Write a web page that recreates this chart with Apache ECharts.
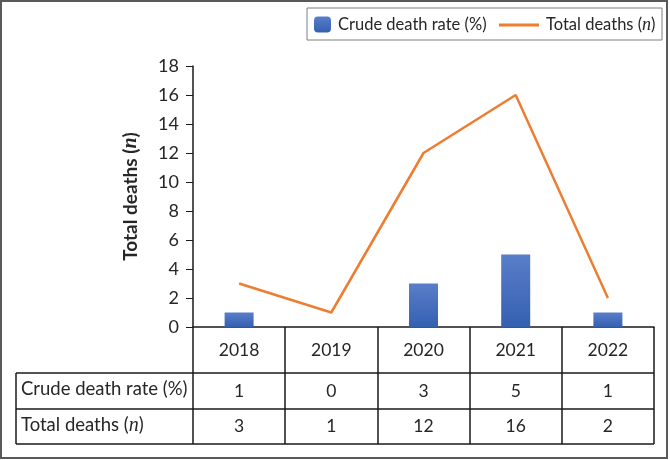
<!DOCTYPE html>
<html>
<head>
<meta charset="utf-8">
<script src="https://cdn.jsdelivr.net/npm/echarts@6/dist/echarts.min.js"></script>
<style>
  html, body { margin: 0; padding: 0; background: #fff; }
  #chart { width: 670px; height: 460px; }
</style>
</head>
<body>
<div id="chart"></div>
<script>
// data
const years = ['2018', '2019', '2020', '2021', '2022']
const crudeRate = [1, 0, 3, 5, 1]
const totalDeaths = [3, 1, 12, 16, 2]
const yTicks = { min: 0, max: 18, interval: 2 }

const FONT = 'Lato'
const TEXT = '#262626'

// table layout (pixels)
const tableLeft = 16
const plotLeft = 193
const plotRight = 654
const rowTops = [327, 373, 409, 444]

const chart = echarts.init(document.getElementById('chart'))

const tableLines = []
// horizontal lines of the two data rows
for (let i = 1; i < rowTops.length; i++) {
  tableLines.push({
    type: 'line',
    shape: { x1: tableLeft, y1: rowTops[i], x2: plotRight, y2: rowTops[i] },
    style: { stroke: '#1a1a1a', lineWidth: 1.5 }
  })
}
tableLines.push({
  type: 'line',
  shape: { x1: tableLeft, y1: rowTops[1], x2: tableLeft, y2: rowTops[3] },
  style: { stroke: '#1a1a1a', lineWidth: 1.5 }
})

const rowLabelRich = { i: { fontStyle: 'italic', fontFamily: 'Liberation Serif', fontSize: 20, fill: TEXT } }

const option = {
  animation: false,
  backgroundColor: '#fff',
  grid: {
    left: plotLeft,
    right: 670 - plotRight,
    top: 66,
    bottom: 460 - rowTops[0]
  },
  legend: [
    {
      data: ['Crude death rate (%)'],
      left: 309,
      top: 11,
      itemWidth: 17,
      itemHeight: 16,
      itemGap: 0,
      textStyle: { fontFamily: FONT, fontSize: 16.5, color: TEXT, padding: [0, 0, 0, 2] }
    },
    {
      data: [{ name: 'Total deaths (n)', icon: 'rect' }],
      left: 494,
      top: 11,
      itemWidth: 40,
      itemHeight: 3,
      formatter: () => 'Total deaths ({i|n})',
      textStyle: {
        fontFamily: FONT, fontSize: 16.5, color: TEXT, padding: [0, 0, 0, 2],
        rich: { i: { fontStyle: 'italic', fontFamily: 'Liberation Serif', fontSize: 18, color: TEXT } }
      }
    }
  ],
  xAxis: {
    type: 'category',
    data: years,
    axisLine: { lineStyle: { color: '#1a1a1a', width: 1.5 } },
    axisTick: {
      show: true,
      length: rowTops[3] - rowTops[0],
      lineStyle: { color: '#1a1a1a', width: 1.5 }
    },
    axisLabel: {
      margin: 0,
      formatter: (value, idx) => '{y|' + value + '}\n{a|' + crudeRate[idx] + '}\n{b|' + totalDeaths[idx] + '}',
      rich: {
        y: { fontFamily: FONT, fontSize: 17.5, color: TEXT, lineHeight: rowTops[1] - rowTops[0], align: 'center' },
        a: { fontFamily: FONT, fontSize: 17.5, color: TEXT, lineHeight: rowTops[2] - rowTops[1], align: 'center' },
        b: { fontFamily: FONT, fontSize: 17.5, color: TEXT, lineHeight: rowTops[3] - rowTops[2], align: 'center' }
      }
    }
  },
  yAxis: {
    type: 'value',
    min: yTicks.min,
    max: yTicks.max,
    interval: yTicks.interval,
    name: 'Total deaths ({i|n})',
    nameLocation: 'middle',
    nameGap: 52,
    nameTextStyle: {
      fontFamily: FONT, fontSize: 19, fontWeight: 'bold', color: TEXT,
      rich: { i: { fontStyle: 'italic', fontWeight: 'bold', fontFamily: 'Liberation Serif', fontSize: 20, color: TEXT } }
    },
    axisLine: { show: true, lineStyle: { color: '#1a1a1a', width: 1.5 } },
    axisTick: { show: true, length: 7, lineStyle: { color: '#1a1a1a' } },
    axisLabel: { margin: 14, fontFamily: FONT, fontSize: 18, color: TEXT },
    splitLine: { show: false }
  },
  series: [
    {
      name: 'Crude death rate (%)',
      type: 'bar',
      data: crudeRate,
      barWidth: 29,
      itemStyle: {
        color: new echarts.graphic.LinearGradient(0, 0, 0, 1, [
          { offset: 0, color: '#5a7ec9' },
          { offset: 1, color: '#3460b1' }
        ])
      }
    },
    {
      name: 'Total deaths (n)',
      type: 'line',
      data: totalDeaths,
      symbol: 'none',
      lineStyle: { color: '#ed7d31', width: 2.5 },
      itemStyle: { color: '#ed7d31' }
    }
  ],
  graphic: [
    // outer frame
    {
      type: 'rect',
      shape: { x: 1, y: 1, width: 666, height: 457 },
      style: { fill: 'none', stroke: '#595959', lineWidth: 2 },
      z: 0
    },
    // legend box
    {
      type: 'rect',
      shape: { x: 307, y: 8, width: 355, height: 32 },
      style: { fill: 'none', stroke: '#7f7f7f', lineWidth: 1 }
    },
    ...tableLines,
    {
      type: 'text',
      left: 21,
      top: (rowTops[1] + rowTops[2]) / 2 - 11,
      style: { text: 'Crude death rate (%)', font: '18.5px ' + FONT, fill: TEXT }
    },
    {
      type: 'text',
      left: 21,
      top: (rowTops[2] + rowTops[3]) / 2 - 11,
      style: {
        text: 'Total deaths ({i|n})',
        font: '18.5px ' + FONT,
        fill: TEXT,
        rich: rowLabelRich
      }
    }
  ]
}

chart.setOption(option)
</script>
</body>
</html>
